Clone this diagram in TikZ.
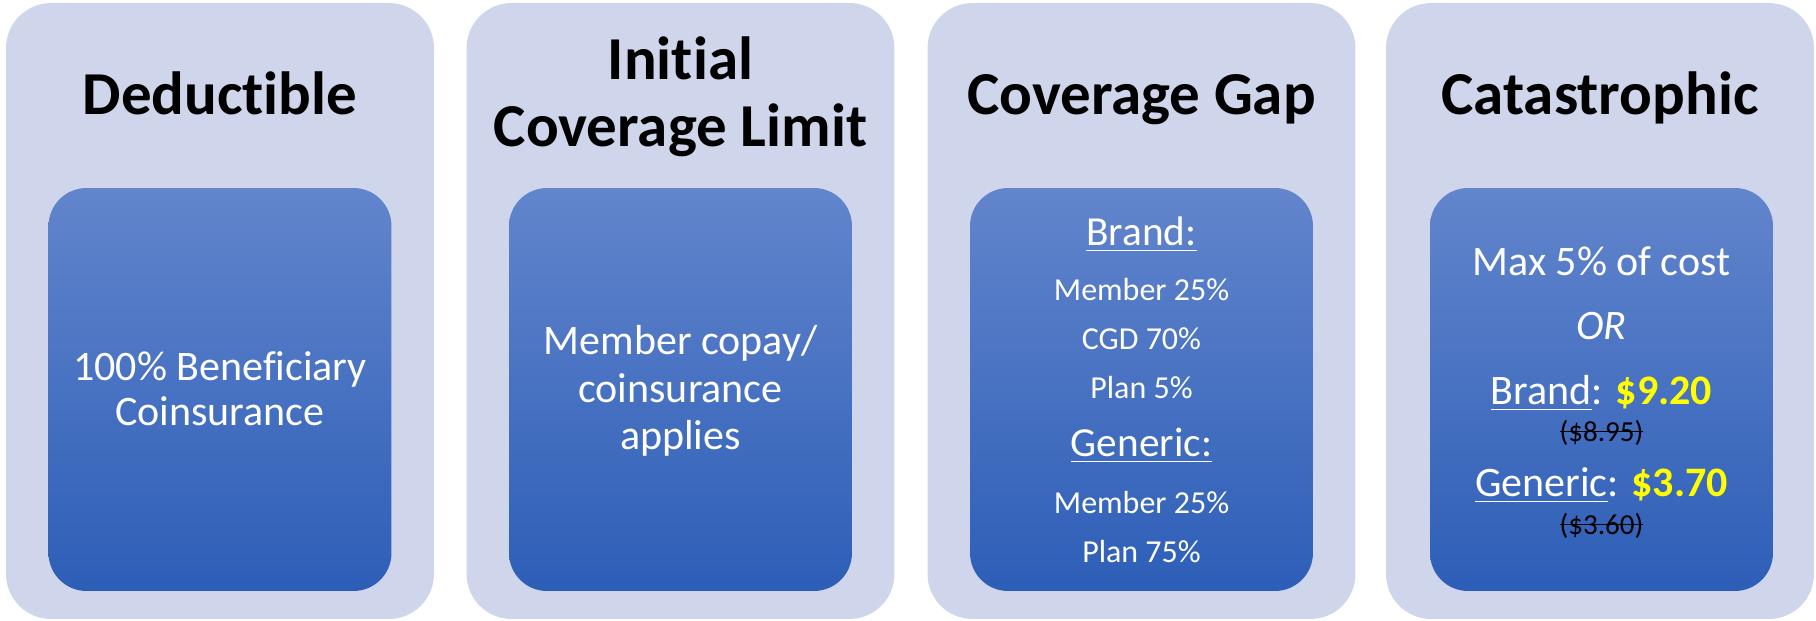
\documentclass[tikz,border=0pt]{standalone}
\usepackage{fontspec}
\setmainfont{Carlito}[Ligatures=NoCommon]
\definecolor{panelbg}{RGB}{207,213,234}
\definecolor{boxtop}{RGB}{98,133,204}
\definecolor{boxbot}{RGB}{45,94,183}
\definecolor{price}{RGB}{255,255,0}
\newcommand\ulword[1]{\setbox0\hbox{#1}\rlap{\rule[-3.6pt]{\wd0}{0.9pt}}\box0}
\newcommand\strikeword[1]{\setbox0\hbox{#1}\rlap{\rule[0.3em]{\wd0}{0.6pt}}\box0}
\tikzset{
	panel/.style={fill=panelbg, rounded corners=0.9cm, minimum width=8.56cm, minimum height=12.32cm, inner sep=0},
	stagebox/.style={top color=boxtop, bottom color=boxbot, rounded corners=0.76cm, minimum width=6.86cm, minimum height=8.06cm, inner sep=0},
	title/.style={font=\fontsize{34.7}{38}\selectfont\bfseries, anchor=base, inner sep=0},
	body/.style={text=white, font=\fontsize{23.9}{26}\selectfont, anchor=base, inner sep=0},
	head/.style={text=white, font=\fontsize{23.5}{26}\selectfont, anchor=base, inner sep=0},
	share/.style={text=white, font=\fontsize{18.2}{20}\selectfont, anchor=base, inner sep=0},
	old/.style={text=black, font=\fontsize{16.5}{18}\selectfont, anchor=base, inner sep=0},
}
\begin{document}
\begin{tikzpicture}[x=0.02cm, y=-0.02cm]
	\useasboundingbox (0,0) rectangle (1816,620);

	\node [panel] (ded)  at ( 220  ,311) {};
	\node [panel] (icl)  at ( 680.5,311) {};
	\node [panel] (gap)  at (1141.5,311) {};
	\node [panel] (cat)  at (1600  ,311) {};

	\node [stagebox] (ded-box) at ( 220  ,389.5) {};
	\node [stagebox] (icl-box) at ( 680.5,389.5) {};
	\node [stagebox] (gap-box) at (1141.5,389.5) {};
	\node [stagebox] (cat-box) at (1601.5,389.5) {};

	\node [title] (ded-title)  at ( 220  ,114  ) {Deductible};
	\node [title] (icl-title1) at ( 680.5, 79  ) {Initial};
	\node [title] (icl-title2) at ( 680.5,146.5) {Coverage Limit};
	\node [title] (gap-title)  at (1141.5,114  ) {Coverage Gap};
	\node [title] (cat-title)  at (1600  ,114  ) {Catastrophic};

	\node [body] (ded-l1) at (220,380) {100\% Beneficiary};
	\node [body] (ded-l2) at (220,425.5) {Coinsurance};

	\node [body] (icl-l1) at (680.5,354) {Member copay/};
	\node [body] (icl-l2) at (680.5,402) {coinsurance};
	\node [body] (icl-l3) at (680.5,449) {applies};

	\node [head]  (gap-brand)   at (1141.5,245  ) {\ulword{Brand:}};
	\node [share] (gap-b1)      at (1141.5,300  ) {Member 25\%};
	\node [share] (gap-b2)      at (1141.5,349.5) {CGD 70\%};
	\node [share] (gap-b3)      at (1141.5,398  ) {Plan 5\%};
	\node [head]  (gap-generic) at (1141.5,456  ) {\ulword{Generic:}};
	\node [share] (gap-g1)      at (1141.5,513  ) {Member 25\%};
	\node [share] (gap-g2)      at (1141.5,562  ) {Plan 75\%};

	\node [body] (cat-max)     at (1601.5,275  ) {Max 5\% of cost};
	\node [body] (cat-or)      at (1601.5,339.5) {\textit{OR}};
	\node [body] (cat-brand)   at (1601.5,404  ) {\ulword{Brand}: \textcolor{price}{\textbf{\$9.20}}};
	\node [old]  (cat-brand0)  at (1601.5,441  ) {\strikeword{(\$8.95)}};
	\node [body] (cat-generic) at (1601.5,496  ) {\ulword{Generic}: \textcolor{price}{\textbf{\$3.70}}};
	\node [old]  (cat-generic0) at (1601.5,534 ) {\strikeword{(\$3.60)}};
\end{tikzpicture}
\end{document}
